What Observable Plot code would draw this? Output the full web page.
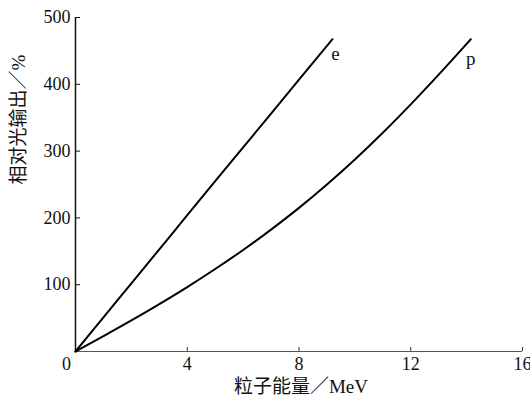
<!DOCTYPE html>
<html>
<head>
<meta charset="utf-8">
<script src="https://cdn.jsdelivr.net/npm/d3@7"></script>
<script src="https://cdn.jsdelivr.net/npm/@observablehq/plot@0.6"></script>
<style>
  body { margin: 0; background: #fff; }
  #chart svg { overflow: visible; }
</style>
</head>
<body>
<div id="chart"></div>
<script>
// Relative light output versus particle energy for electrons (e) and protons (p)
const energyE = [0, 1, 2, 3, 4, 5, 6, 7, 8, 9, 9.2];
const lightE  = [0, 51, 102, 153, 204, 255, 305.5, 356, 407, 457.5, 467.5];
const energyP = [0, 1, 2, 3, 4, 5, 6, 7, 8, 9, 10, 11, 12, 13, 14, 14.15];
const lightP  = [0, 23, 46.5, 71, 96.5, 123.5, 152, 182.5, 215, 250, 287.5, 327.5, 370, 414.5, 460.5, 467.5];
const xTicks = [4, 8, 12, 16];
const yTicks = [100, 200, 300, 400, 500];
const xLabel = "粒子能量／MeV";
const yLabel = "相对光输出／%";

const serif = "'Liberation Serif', 'Times New Roman', 'Noto Sans CJK SC', serif";

const rowsE = energyE.map((x, i) => ({series: "e", x, y: lightE[i]}));
const rowsP = energyP.map((x, i) => ({series: "p", x, y: lightP[i]}));
const rows = [...rowsE, ...rowsP];
const endE = rowsE[rowsE.length - 1];
const endP = rowsP[rowsP.length - 1];

const chart = Plot.plot({
  width: 530,
  height: 401,
  marginLeft: 75,
  marginRight: 8,
  marginTop: 17,
  marginBottom: 50,
  style: {fontFamily: serif, fontSize: "18px", color: "#111", background: "#fff"},
  x: {domain: [0, 16]},
  y: {domain: [0, 500]},
  marks: [
    // inward ticks with labels outside the frame
    Plot.axisX(xTicks, {tickSize: -4, tickPadding: 10, stroke: "#333", fontSize: 18, label: null}),
    Plot.axisY(yTicks, {tickSize: -5, tickPadding: 10, stroke: "#111", fontSize: 18, label: null}),
    Plot.text([0], {x: d => d, y: 0, text: d => String(d), dx: -9, dy: 6, lineAnchor: "top", fontSize: 18, fill: "#111"}),
    Plot.ruleY([0], {stroke: "#555", strokeWidth: 1.2}),
    Plot.ruleX([0], {stroke: "#111", strokeWidth: 1.5}),
    Plot.line(rows, {x: "x", y: "y", z: "series", curve: "monotone-x", stroke: "#000", strokeWidth: 2}),
    Plot.text([endE], {x: "x", y: "y", text: "series", dx: 3, dy: 15, fontSize: 19, fill: "#111"}),
    Plot.text([endP], {x: "x", y: "y", text: "series", dx: 0, dy: 20, fontSize: 19, fill: "#111"}),
    Plot.text([xLabel], {frameAnchor: "bottom", dx: 2, dy: 41, fontSize: 19, fill: "#111"}),
    Plot.text([yLabel], {frameAnchor: "left", rotate: -90, dx: -57, fontSize: 19, fill: "#111"})
  ]
});

document.getElementById("chart").append(chart);
</script>
</body>
</html>
